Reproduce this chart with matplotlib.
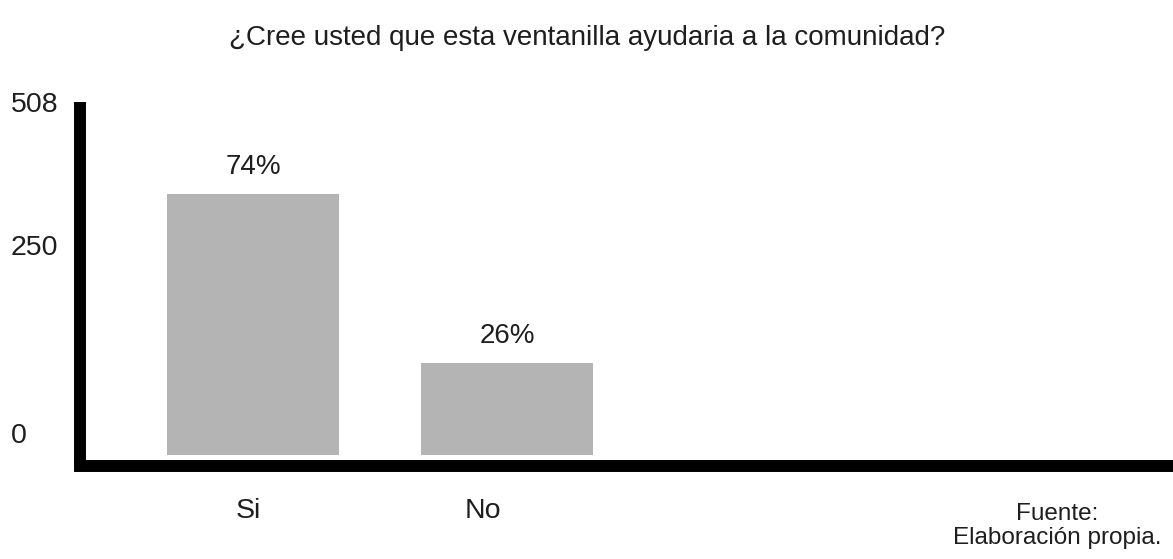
import matplotlib
matplotlib.use("Agg")
import matplotlib.pyplot as plt

# Survey answers
categories = ["Si", "No"]
total_respondents = 508
counts = [376, 132]
ytick_labels = ["508", "250", "0"]

title = "¿Cree usted que esta ventanilla ayudaria a la comunidad?"
source_note = "Fuente:\nElaboración propia."

plt.rcParams["font.family"] = ["Liberation Sans", "DejaVu Sans"]

W, H, DPI = 1173, 559, 100
fig = plt.figure(figsize=(W / DPI, H / DPI), dpi=DPI)

# axes box in pixels: left spine at x=80, bottom spine at y=466, top at y=102
left_px, bottom_px, top_px = 80, 466, 102
ax = fig.add_axes([left_px / W, (H - bottom_px) / H,
                   (W - left_px) / W, (bottom_px - top_px) / H])

x = list(range(len(categories)))
bars = ax.bar(x, counts, width=0.677, color="#b4b4b4", zorder=1)

ax.set_xlim(-0.681, 3.622)
ax.set_ylim(-16, total_respondents)

# percentage labels above each bar
for rect, c in zip(bars, counts):
    pct = round(100 * c / total_respondents)
    ax.annotate(f"{pct}%", (rect.get_x() + rect.get_width() / 2, rect.get_height()),
                xytext=(0, 10), textcoords="offset points",
                ha="center", va="bottom", fontsize=20, color="#1e1e1e")

# category labels sit slightly left of the bar centres
ax.set_xticks([0 - 0.02, 1 - 0.095], labels=categories)
ax.tick_params(axis="x", length=0, pad=23, labelsize=20.5, labelcolor="#1e1e1e")

# y labels are placed at their printed heights on the original scale
ax.set_yticks([508, 302, 32], labels=ytick_labels)
ax.tick_params(axis="y", length=0, pad=50, labelsize=20.5, labelcolor="#1e1e1e")
for lbl in ax.get_yticklabels():
    lbl.set_horizontalalignment("left")

for side in ("top", "right"):
    ax.spines[side].set_visible(False)
for side in ("left", "bottom"):
    ax.spines[side].set_linewidth(8.6)
    ax.spines[side].set_color("black")
ax.spines["bottom"].set_capstyle("projecting")
ax.spines["left"].set_capstyle("butt")

fig.text(587 / W, 1 - 38 / H, title, ha="center", va="center",
         fontsize=20, color="#1e1e1e")
fig.text(1057 / W, 1 - 526 / H, source_note, ha="center", va="center",
         fontsize=17.5, color="#1e1e1e", linespacing=1.15)

fig.savefig("out.png", dpi=DPI)
